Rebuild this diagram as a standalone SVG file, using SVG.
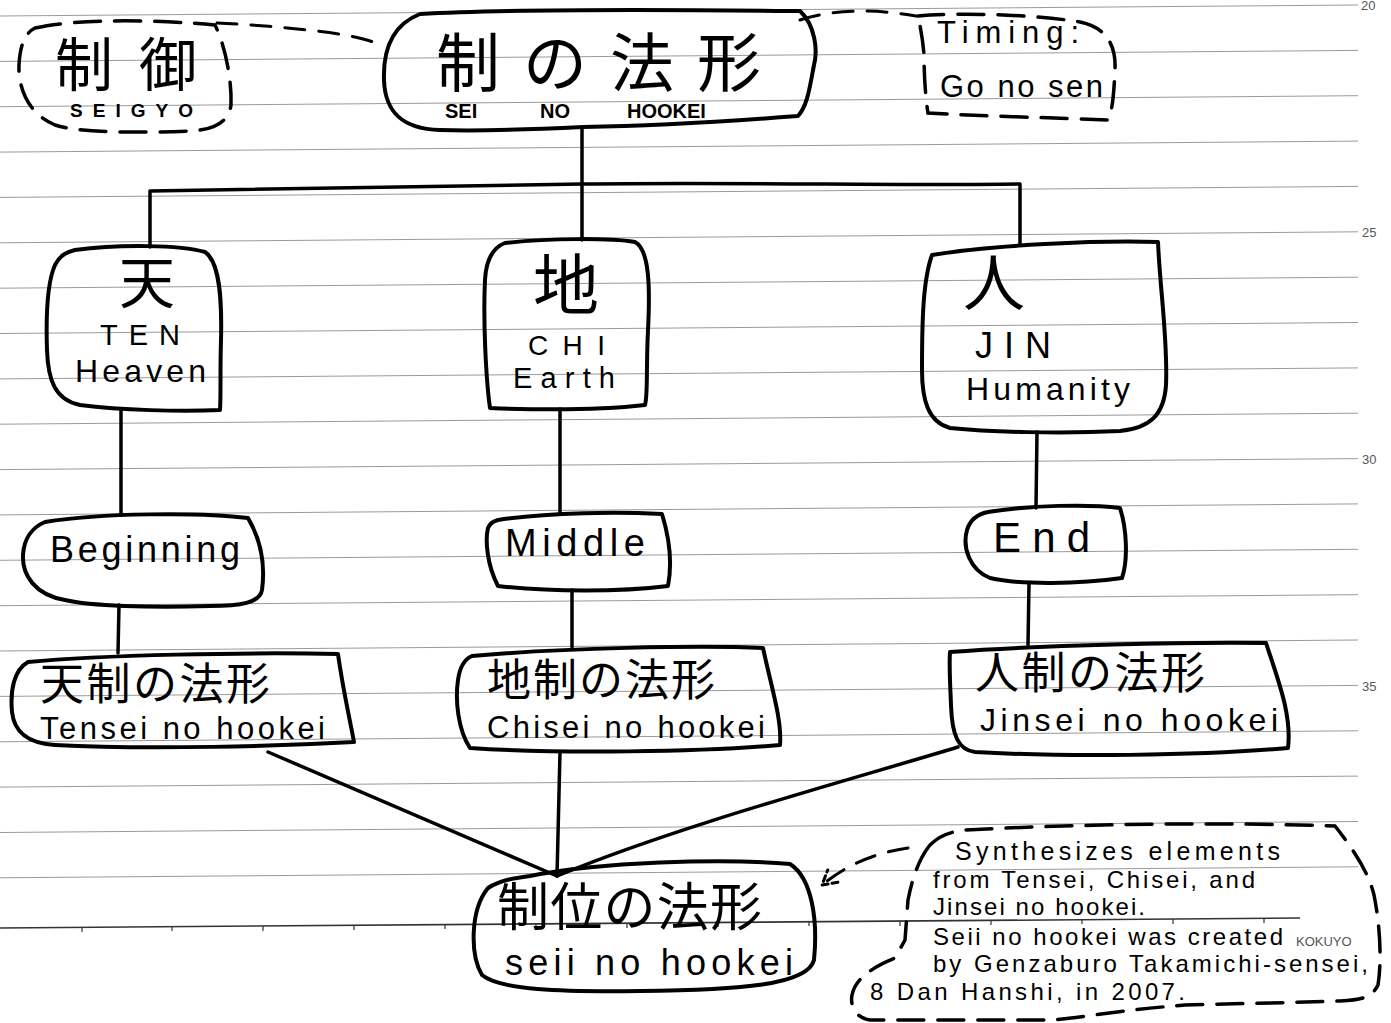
<svg xmlns="http://www.w3.org/2000/svg" width="1391" height="1023" viewBox="0 0 1391 1023">
<defs>
<style>
.paper{stroke:#9a9a9a;stroke-width:1;fill:none}
.pnum{font-family:"Liberation Sans",Arial,sans-serif;font-size:13px;fill:#555}
.node{fill:none;stroke:#000;stroke-width:4;stroke-linejoin:round;stroke-linecap:round}
.dnode{fill:none;stroke:#000;stroke-width:3.5;stroke-dasharray:26 14;stroke-linecap:round}
.edge{fill:none;stroke:#000;stroke-width:3.5;stroke-linecap:round;stroke-linejoin:round}
.dedge{fill:none;stroke:#000;stroke-width:3;stroke-dasharray:20 14;stroke-linecap:round}
.jp{font-family:"Liberation Sans","Noto Sans CJK JP",sans-serif;fill:#000}
.lt{font-family:"Liberation Sans","Noto Sans CJK JP",sans-serif;fill:#000}
.cap{font-family:"Liberation Sans","Noto Sans CJK JP",sans-serif;font-weight:bold;fill:#000}
</style>
<marker id="chev" markerUnits="userSpaceOnUse" markerWidth="22" markerHeight="22" viewBox="0 0 22 22" refX="19" refY="11" orient="auto">
<path d="M5,3 L19,11 L5,19" fill="none" stroke="#000" stroke-width="3" stroke-dasharray="6 4" stroke-linecap="round"/>
</marker>
</defs>
<rect width="1391" height="1023" fill="#fff"/>
<g id="paper">
<path class="paper" d="M0,16 L1358,5 M0,61.4 L1358,50.4 M0,106.7 L1358,95.7 M0,152.1 L1358,141.1 M0,197.4 L1358,186.4 M0,242.8 L1358,231.8 M0,288.2 L1358,277.2 M0,333.5 L1358,322.5 M0,378.9 L1358,367.9 M0,424.2 L1358,413.2 M0,469.6 L1358,458.6 M0,514.9 L1358,503.9 M0,560.3 L1358,549.3 M0,605.7 L1358,594.7 M0,651 L1358,640 M0,696.4 L1358,685.4 M0,741.8 L1358,730.8 M0,787.1 L1358,776.1 M0,832.5 L1358,821.5 M0,877.8 L1358,866.8"/>
<path d="M0,928 L1300,918" stroke="#333" stroke-width="1.6" fill="none"/>
<path d="M82,927 v5 M172,926 v5 M263,926 v5 M354,925 v5 M445,924 v5 M536,924 v5 M627,923 v5 M718,922 v5 M809,921 v5 M900,921 v5 M991,920 v5 M1082,919 v5 M1173,919 v5 M1264,918 v5" stroke="#333" stroke-width="1.2"/>
<text class="pnum" x="1361" y="10">20</text>
<text class="pnum" x="1362" y="237">25</text>
<text class="pnum" x="1362" y="464">30</text>
<text class="pnum" x="1362" y="691">35</text>
<text class="pnum" x="1296" y="946" font-size="14">KOKUYO</text>
</g>
<g id="connectors">
<path class="edge" d="M582,128 L582,240"/>
<path class="edge" d="M150,247 L150,191 C300,188 450,186 582,184 C750,182 900,186 1020,184 L1020,243"/>
<path class="edge" d="M121,410 L121,515"/>
<path class="edge" d="M119,605 L118,653"/>
<path class="edge" d="M560,409 L560,514"/>
<path class="edge" d="M572,590 L572,647"/>
<path class="edge" d="M1037,432 L1036,508"/>
<path class="edge" d="M1029,583 L1028,645"/>
<path class="edge" d="M268,752 L557,876"/>
<path class="edge" d="M560,752 L557,876"/>
<path class="edge" d="M958,747 C850,780 680,825 557,876"/>
<path class="dedge" d="M217,23 C260,25 320,30 350,36 C365,39 375,42 382,46"/>
<path class="dedge" d="M800,20 C830,10 870,8 916,16"/>
<path class="dedge" d="M908,848 C880,852 850,862 822,885" marker-end="url(#chev)"/>
</g>
<g id="seigyo">
<path class="dnode" d="M35,28 C80,18 160,20 215,25 C225,45 232,80 231,105 C228,125 210,130 190,131 C140,133 80,133 55,125 C30,115 18,90 19,65 C20,45 25,33 35,28 Z"/>
<text class="jp" x="55" y="86" font-size="58" textLength="142" lengthAdjust="spacing">制御</text>
<text class="cap" x="70" y="117" font-size="19" textLength="123" lengthAdjust="spacing">SEIGYO</text>
</g>
<g id="sei-no-hookei">
<path class="node" d="M420,14 C520,8 700,10 800,11 C815,25 818,50 814,65 C810,85 808,105 798,116 C720,122 640,126 583,127 C520,130 470,131 440,130 C400,129 385,110 384,80 C383,50 392,25 420,14 Z"/>
<text class="jp" x="436" y="86" font-size="64" textLength="325" lengthAdjust="spacing">制の法形</text>
<text class="cap" y="118" font-size="20"><tspan x="445">SEI</tspan><tspan x="540">NO</tspan><tspan x="627">HOOKEI</tspan></text>
</g>
<g id="timing">
<path class="dnode" d="M918,16 C960,12 1040,15 1080,22 C1110,28 1116,50 1115,70 C1114,90 1113,110 1108,120 C1060,118 980,116 928,113 C925,95 924,70 924,55 C923,40 920,25 918,16 Z"/>
<text class="lt" x="937" y="43" font-size="31" textLength="142" lengthAdjust="spacing">Timing:</text>
<text class="lt" x="940" y="97" font-size="31" textLength="163" lengthAdjust="spacing">Go no sen</text>
</g>
<g id="ten">
<path class="node" d="M75,250 C120,244 180,245 205,252 C220,262 222,300 221,340 C220,370 221,395 220,410 C180,412 120,410 80,405 C55,400 48,380 47,350 C46,320 46,285 55,265 C60,255 67,252 75,250 Z"/>
<text class="jp" x="147" y="303" font-size="56" text-anchor="middle">天</text>
<text class="lt" x="100" y="345" font-size="29" textLength="80" lengthAdjust="spacing">TEN</text>
<text class="lt" x="75" y="382" font-size="32" textLength="131" lengthAdjust="spacing">Heaven</text>
</g>
<g id="chi">
<path class="node" d="M505,243 C550,238 610,238 635,242 C650,250 650,290 648,330 C646,370 648,395 645,405 C600,410 540,410 490,408 C486,380 483,320 485,280 C486,260 492,248 505,243 Z"/>
<text class="jp" x="566" y="309" font-size="66" text-anchor="middle">地</text>
<text class="lt" x="528" y="355" font-size="28" textLength="77" lengthAdjust="spacing">CHI</text>
<text class="lt" x="513" y="388" font-size="29" textLength="102" lengthAdjust="spacing">Earth</text>
</g>
<g id="jin">
<path class="node" d="M932,255 C990,245 1100,240 1158,242 C1160,290 1168,340 1166,385 C1164,415 1150,428 1120,431 C1060,434 990,432 950,428 C928,422 922,400 922,370 C922,320 923,280 932,255 Z"/>
<text class="jp" x="963" y="306" font-size="62">人</text>
<text class="lt" x="975" y="358" font-size="36" textLength="76" lengthAdjust="spacing">JIN</text>
<text class="lt" x="966" y="400" font-size="32" textLength="164" lengthAdjust="spacing">Humanity</text>
</g>
<g id="beginning">
<path class="node" d="M45,522 C100,513 200,512 248,518 C258,535 266,560 262,590 C260,603 240,606 210,606 C150,608 90,606 65,600 C35,595 22,575 23,555 C24,538 33,527 45,522 Z"/>
<text class="lt" x="50" y="562" font-size="36" textLength="190" lengthAdjust="spacing">Beginning</text>
</g>
<g id="middle">
<path class="node" d="M498,520 C550,512 620,512 662,514 C670,540 672,565 668,586 C620,592 550,592 498,586 C487,565 485,540 488,528 C490,523 494,521 498,520 Z"/>
<text class="lt" x="505" y="556" font-size="38" textLength="140" lengthAdjust="spacing">Middle</text>
</g>
<g id="end">
<path class="node" d="M988,512 C1030,505 1090,504 1120,508 C1127,530 1128,560 1122,578 C1080,584 1020,585 990,578 C970,570 962,548 967,530 C970,520 978,514 988,512 Z"/>
<text class="lt" x="993" y="552" font-size="42" textLength="97" lengthAdjust="spacing">End</text>
</g>
<g id="tensei">
<path class="node" d="M28,662 C100,655 250,652 338,654 C343,690 350,720 354,742 C280,746 150,750 55,745 C25,743 14,730 12,712 C10,690 14,670 28,662 Z"/>
<text class="jp" x="40" y="700" font-size="44" textLength="230" lengthAdjust="spacing">天制の法形</text>
<text class="lt" x="40" y="739" font-size="31" textLength="285" lengthAdjust="spacing">Tensei no hookei</text>
</g>
<g id="chisei">
<path class="node" d="M472,656 C560,648 700,645 763,648 C772,690 782,720 780,745 C700,752 560,754 470,748 C458,730 455,700 458,680 C460,665 465,659 472,656 Z"/>
<text class="jp" x="487" y="696" font-size="44" textLength="228" lengthAdjust="spacing">地制の法形</text>
<text class="lt" x="487" y="738" font-size="31" textLength="278" lengthAdjust="spacing">Chisei no hookei</text>
</g>
<g id="jinsei">
<path class="node" d="M950,652 C1050,645 1180,642 1266,643 C1278,680 1292,715 1288,748 C1200,756 1060,757 975,752 C958,750 952,735 951,705 C950,680 949,665 950,652 Z"/>
<text class="jp" x="975" y="689" font-size="44" textLength="230" lengthAdjust="spacing">人制の法形</text>
<text class="lt" x="980" y="731" font-size="32" textLength="298" lengthAdjust="spacing">Jinsei no hookei</text>
</g>
<g id="seii">
<path class="node" d="M530,876 C600,862 720,858 790,864 C812,878 818,920 814,960 C808,985 740,990 640,991 C560,992 500,990 482,975 C470,955 470,910 488,888 C500,880 515,878 530,876 Z"/>
<text class="jp" x="497" y="926" font-size="52" textLength="265" lengthAdjust="spacing">制位の法形</text>
<text class="lt" x="505" y="975" font-size="36" textLength="288" lengthAdjust="spacing">seii no hookei</text>
</g>
<g id="note">
<path class="dnode" d="M930,845 C940,835 950,832 965,830 C1080,824 1220,822 1335,826 C1350,845 1368,870 1374,895 C1380,925 1382,960 1378,985 C1372,998 1360,1000 1340,1001 C1280,1003 1220,1004 1185,1005 C1120,1010 1080,1018 1050,1020 L870,1020 C855,1018 850,1005 852,995 C855,980 870,968 895,958 L905,940 L908,900 C912,880 918,860 930,845 Z"/>
<text class="lt" x="955" y="860" font-size="25" textLength="325" lengthAdjust="spacing">Synthesizes elements</text>
<text class="lt" x="933" y="888" font-size="24" textLength="322" lengthAdjust="spacing">from Tensei, Chisei, and</text>
<text class="lt" x="933" y="915" font-size="24" textLength="212" lengthAdjust="spacing">Jinsei no hookei.</text>
<text class="lt" x="933" y="945" font-size="24" textLength="350" lengthAdjust="spacing">Seii no hookei was created</text>
<text class="lt" x="933" y="972" font-size="24" textLength="435" lengthAdjust="spacing">by Genzaburo Takamichi-sensei,</text>
<text class="lt" x="870" y="1000" font-size="24" textLength="315" lengthAdjust="spacing">8 Dan Hanshi, in 2007.</text>
</g>
</svg>
